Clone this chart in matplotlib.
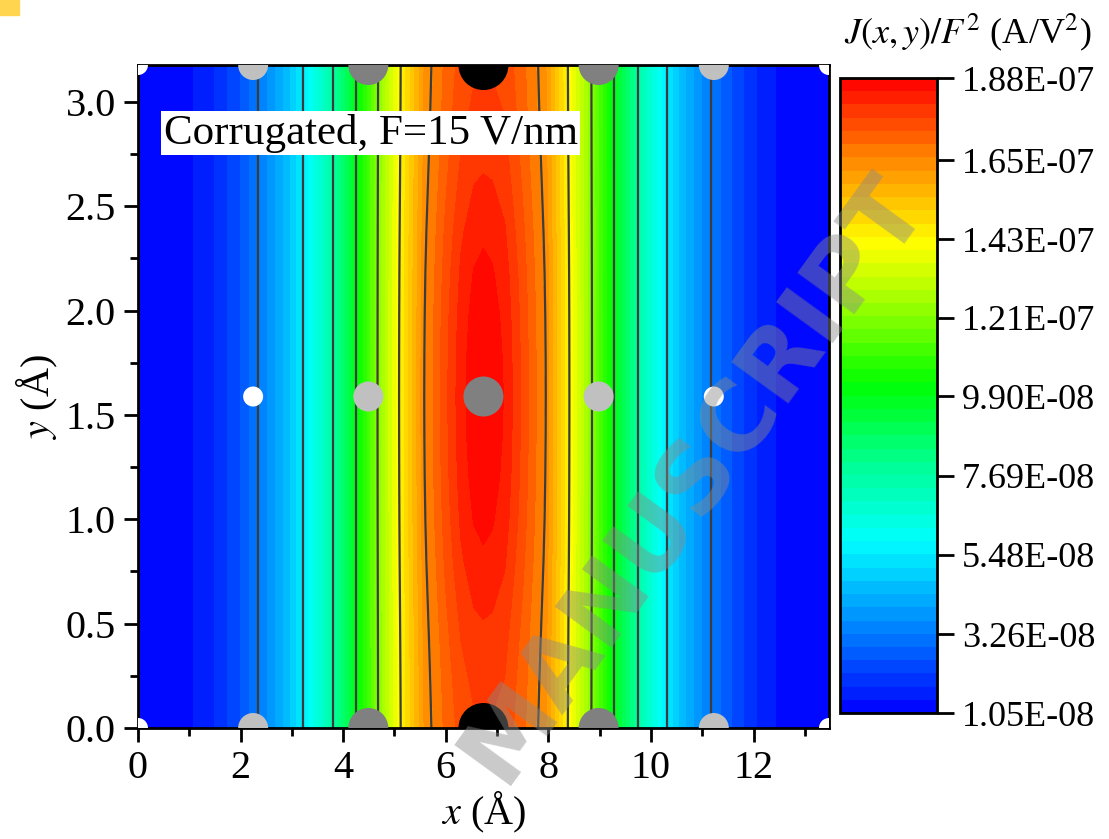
import numpy as np
import matplotlib.pyplot as plt
from matplotlib.colors import LinearSegmentedColormap
from matplotlib.patches import Rectangle

plt.rcParams['font.family'] = ['Liberation Serif', 'DejaVu Serif']
plt.rcParams['mathtext.fontset'] = 'stix'

# x samples (Angstrom) and J/F^2 along the middle row y = 1.588 (units 1e-8 A/V^2)
x_pts = [0, 0.5, 1.0, 1.5, 2.0, 2.34, 2.8, 3.21, 3.8, 4.25, 4.67, 5.09, 5.58, 6.0,
         6.3, 6.55, 6.73, 6.9, 7.15, 7.5, 7.95, 8.41, 8.85, 9.28, 9.74, 10.31, 10.7, 11.17,
         11.6, 12.0, 12.5, 13.0, 13.47]
j_mid = [1.06, 1.12, 1.35, 1.8, 2.55, 3.26, 4.3, 5.48, 7.69, 9.90, 12.1, 14.3, 16.5, 17.6,
         18.3, 18.66, 18.76, 18.68, 18.4, 17.6, 16.5, 14.3, 12.1, 9.9, 7.69, 5.48, 4.3, 3.26,
         2.5, 1.85, 1.35, 1.12, 1.06]
# how strongly the drop towards the top/bottom rows acts at each x sample
dip_w = [0, 0, 0, 0, 0, 0, 0, 0, 0, 0, 0.05, 0.12, 0.25, 0.5,
         0.75, 0.93, 1.0, 0.93, 0.75, 0.5, 0.25, 0.12, 0.05, 0, 0, 0, 0, 0,
         0, 0, 0, 0, 0]
# y samples and the drop of J/F^2 at the centre column (units 1e-8)
y_pts = [0, 0.2, 0.4, 0.6, 0.8, 1.0, 1.2, 1.4, 1.588,
         1.776, 1.976, 2.176, 2.376, 2.576, 2.776, 2.976, 3.176]
dip_y = [1.10, 0.98, 0.82, 0.62, 0.40, 0.22, 0.10, 0.03, 0.0,
         0.03, 0.10, 0.22, 0.40, 0.62, 0.82, 0.98, 1.10]

cbar_ticks = [1.05e-8, 3.26e-8, 5.48e-8, 7.69e-8, 9.90e-8, 1.21e-7, 1.43e-7, 1.65e-7, 1.88e-7]
cbar_labels = ['1.05E-08', '3.26E-08', '5.48E-08', '7.69E-08', '9.90E-08',
               '1.21E-07', '1.43E-07', '1.65E-07', '1.88E-07']

# atoms: x, y, colour and diameter in px
atom_x = [0, 2.245, 4.49, 6.735, 8.98, 11.225, 13.47,
          0, 2.245, 4.49, 6.735, 8.98, 11.225, 13.47,
          2.245, 4.49, 6.735, 8.98, 11.225]
atom_y = [0] * 7 + [3.176] * 7 + [1.588] * 5
atom_c = ['white', '#c0c0c0', '#808080', 'black', '#808080', '#c0c0c0', 'white'] * 2 + \
         ['white', '#c0c0c0', '#808080', '#c0c0c0', 'white']
atom_d = [20, 30, 40, 50, 40, 30, 20] * 2 + [20, 30, 40, 30, 20]

cmap = LinearSegmentedColormap.from_list('origin_rainbow', [
    (0.0, (0, 0, 1)), (0.13, (0, 0.5, 1)), (0.27, (0, 1, 1)), (0.40, (0, 1, 0.55)),
    (0.52, (0, 1, 0)), (0.63, (0.55, 1, 0)), (0.74, (1, 1, 0)), (0.87, (1, 0.55, 0)),
    (1.0, (1, 0, 0))])

X, Y = np.meshgrid(np.array(x_pts), np.array(y_pts))
Z = (np.array(j_mid)[None, :] - np.array(dip_y)[:, None] * np.array(dip_w)[None, :]) * 1e-8

fig = plt.figure(figsize=(11.09, 8.39), dpi=100)
ax = fig.add_axes([0.1244, 0.1323, 0.6231, 0.7902])

levels = np.linspace(cbar_ticks[0], cbar_ticks[-1], 49)
cf = ax.contourf(X, Y, Z, levels=levels, cmap=cmap)
ax.contour(X, Y, Z, levels=cbar_ticks[1:-1], colors='#3c3c3c', linewidths=1.6)

px = 72.0 / 100
ax.scatter(atom_x, atom_y, s=[(d * px) ** 2 for d in atom_d], c=atom_c,
           edgecolors='none', zorder=3, clip_on=True)

ax.set_xlim(0, 13.47)
ax.set_ylim(0, 3.176)
ax.set_xticks([0, 2, 4, 6, 8, 10, 12])
ax.set_xticks(np.arange(1, 14, 2), minor=True)
ax.set_yticks([0, 0.5, 1.0, 1.5, 2.0, 2.5, 3.0])
ax.set_yticks(np.arange(0.25, 3.1, 0.5), minor=True)
ax.yaxis.set_major_formatter(plt.FormatStrFormatter('%.1f'))
ax.tick_params(which='major', direction='out', length=10, width=2, labelsize=29, pad=6)
ax.tick_params(which='minor', direction='out', length=6, width=2)
for s in ax.spines.values():
    s.set_linewidth(2)
ax.set_xlabel(r'$x$ (Å)', fontsize=29, labelpad=2)
ax.set_ylabel(r'$y$ (Å)', fontsize=29, labelpad=4)

ax.text(0.5, 2.85, 'Corrugated, F=15 V/nm', fontsize=31, va='center', ha='left',
        bbox=dict(facecolor='white', edgecolor='none', pad=2), zorder=4)

cax = fig.add_axes([0.7574, 0.150, 0.0875, 0.757])
cb = fig.colorbar(cf, cax=cax, ticks=cbar_ticks)
cb.ax.set_yticklabels(cbar_labels)
cb.outline.set_linewidth(2)
cb.ax.tick_params(direction='out', length=12, width=2, labelsize=26, pad=6)
cb.ax.minorticks_off()
fig.text(0.873, 0.962, r'$J(x,y)/F^2$ (A/V$^2$)', fontsize=26, ha='center', va='center')

# watermark of the journal
fig.text(0.625, 0.43, 'MANUSCRIPT', fontsize=70, fontweight='bold', family='DejaVu Sans',
         rotation=54, ha='center', va='center', color='#8a8a8a', alpha=0.45, zorder=10)
fig.patches.append(Rectangle((0, 0.982), 0.017, 0.018, transform=fig.transFigure,
                             color='#ffd54f', zorder=10))

fig.savefig('out.png', dpi=100)
